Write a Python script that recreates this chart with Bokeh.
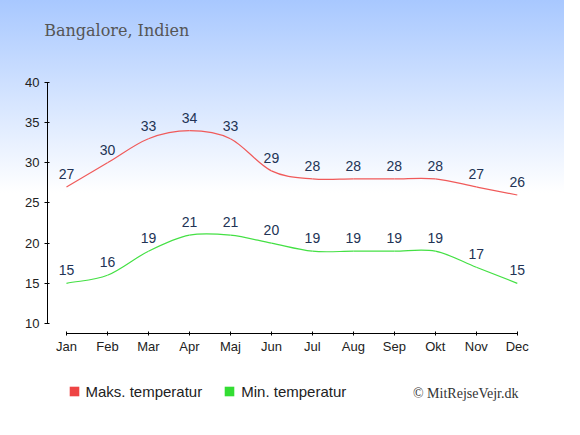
from bokeh.plotting import figure
from bokeh.layouts import column
from bokeh.models import (ColumnDataSource, Range1d, FixedTicker, Legend, LegendItem, Label)
from bokeh.core.properties import value
from bokeh.embed import file_html
from bokeh.resources import INLINE

# ---- data ----
months = ["Jan", "Feb", "Mar", "Apr", "Maj", "Jun", "Jul", "Aug", "Sep", "Okt", "Nov", "Dec"]
max_temp = [27, 30, 33, 34, 33, 29, 28, 28, 28, 28, 27, 26]
min_temp = [15, 16, 19, 21, 21, 20, 19, 19, 19, 19, 17, 15]
y_ticks = [10, 15, 20, 25, 30, 35, 40]
title_text = "Bangalore, Indien"
max_label = "Maks. temperatur"
min_label = "Min. temperatur"
credit_text = "\u00a9 MitRejseVejr.dk"

xs = list(range(len(months)))
W = 564


def spline_segments(x, y):
    """Catmull-Rom style cubic Bezier segments through the data points."""
    n = len(y)
    tang = []
    for i in range(n):
        if i == 0:
            tang.append(y[1] - y[0])
        elif i == n - 1:
            tang.append(y[-1] - y[-2])
        else:
            tang.append((y[i + 1] - y[i - 1]) / 2.0)
    d = dict(x0=[], y0=[], x1=[], y1=[], cx0=[], cy0=[], cx1=[], cy1=[])
    for i in range(n - 1):
        d["x0"].append(x[i]); d["y0"].append(y[i])
        d["x1"].append(x[i + 1]); d["y1"].append(y[i + 1])
        d["cx0"].append(x[i] + 1 / 3); d["cy0"].append(y[i] + tang[i] / 3)
        d["cx1"].append(x[i + 1] - 1 / 3); d["cy1"].append(y[i + 1] - tang[i + 1] / 3)
    return ColumnDataSource(d)


def blank(fig):
    fig.background_fill_color = None
    fig.border_fill_color = None
    fig.outline_line_color = None
    fig.grid.visible = False
    fig.axis.visible = False


# ---- top strip: title ----
TOP_H = 72
top = figure(width=W, height=TOP_H, output_backend="svg", toolbar_location=None,
             x_range=Range1d(0, W), y_range=Range1d(0, TOP_H), min_border=0,
             x_axis_location=None, y_axis_location=None, frame_align=False)
blank(top)
top.add_layout(Label(x=43.7, y=TOP_H - 30.3, text=title_text, text_font="DejaVu Serif",
                     text_font_size="16px", text_color="#555555", text_baseline="alphabetic"))

# ---- main chart ----
p = figure(width=W, height=291, output_backend="svg", toolbar_location=None,
           x_range=Range1d(-0.463, 11.2), y_range=Range1d(8.755, 40.0),
           min_border_left=47, min_border_right=39, min_border_top=10, min_border_bottom=30)
p.background_fill_color = None
p.border_fill_color = None
p.outline_line_color = None
p.grid.visible = False

for ax in (p.xaxis[0], p.yaxis[0]):
    ax.axis_line_color = "#000000"
    ax.major_tick_line_color = "#000000"
    ax.minor_tick_line_color = None
    ax.major_label_text_font = "Liberation Sans"
    ax.major_label_text_font_size = "13px"
    ax.major_label_text_color = "#222222"

p.yaxis.ticker = FixedTicker(ticks=y_ticks)
p.yaxis.bounds = (y_ticks[0], y_ticks[-1])
p.yaxis.major_tick_in = 2
p.yaxis.major_tick_out = 3
p.yaxis.major_label_standoff = 5

p.xaxis.ticker = FixedTicker(ticks=xs)
p.xaxis.bounds = (xs[0], xs[-1])
p.xaxis.major_label_overrides = {i: m for i, m in zip(xs, months)}
p.xaxis.major_tick_in = 2
p.xaxis.major_tick_out = 2
p.xaxis.major_label_standoff = 3

p.bezier(x0="x0", y0="y0", x1="x1", y1="y1", cx0="cx0", cy0="cy0", cx1="cx1", cy1="cy1",
         source=spline_segments(xs, max_temp), line_color="#f05a5a", line_width=1.2)
p.bezier(x0="x0", y0="y0", x1="x1", y1="y1", cx0="cx0", cy0="cy0", cx1="cx1", cy1="cy1",
         source=spline_segments(xs, min_temp), line_color="#44e044", line_width=1.2)

lab = ColumnDataSource(dict(x=xs, ymax=max_temp, ymin=min_temp,
                            tmax=[str(v) for v in max_temp], tmin=[str(v) for v in min_temp]))
for ycol, tcol in (("ymax", "tmax"), ("ymin", "tmin")):
    p.text(x="x", y=ycol, text=tcol, source=lab, text_align="center", text_baseline="middle",
           y_offset=-13, text_font=value("Liberation Sans"), text_font_size="14px",
           text_color="#223355")

# ---- bottom strip: legend and credit ----
BOT_H = 419 - TOP_H - 291
bot = figure(width=W, height=BOT_H, output_backend="svg", toolbar_location=None,
             x_range=Range1d(0, W), y_range=Range1d(0, BOT_H), min_border=0,
             x_axis_location=None, y_axis_location=None, frame_align=False)
blank(bot)
# hidden renderers carrying the series, used only for the legend swatches
r_max = bot.quad(left=xs, right=xs, top=max_temp, bottom=max_temp,
                 fill_color="#ee4444", line_color=None, visible=False)
r_min = bot.quad(left=xs, right=xs, top=min_temp, bottom=min_temp,
                 fill_color="#33dd33", line_color=None, visible=False)
legend = Legend(items=[LegendItem(label=max_label, renderers=[r_max]),
                       LegendItem(label=min_label, renderers=[r_min])],
                orientation="horizontal", location=(67.5, BOT_H - 28 - 10), padding=0, margin=0,
                border_line_color=None, background_fill_alpha=0,
                glyph_width=12, glyph_height=12, label_standoff=6, spacing=21,
                label_height=20, label_text_font="Liberation Sans",
                label_text_font_size="15px", label_text_color="#222222")
bot.add_layout(legend)
bot.add_layout(Label(x=518, y=BOT_H - 30, text=credit_text, text_font="Liberation Serif",
                     text_font_size="14px", text_color="#333333", text_align="right",
                     text_baseline="alphabetic"))

page = column(top, p, bot, spacing=0,
              styles={"background": "linear-gradient(to bottom, #a8c8ff 0%, #ffffff 46%)"})

open("out.html", "w").write(file_html(page, INLINE))
